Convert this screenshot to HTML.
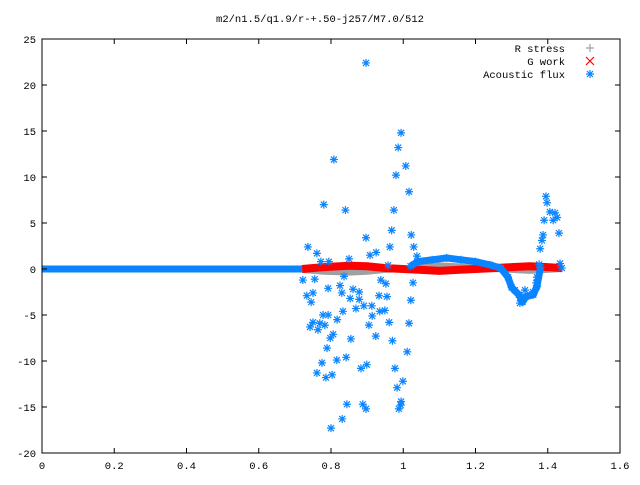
<!DOCTYPE html>
<html><head><meta charset="utf-8"><style>
body{margin:0;background:#fff}
svg text{font-family:"Liberation Mono",monospace;font-size:10.5px;fill:#000}
</style></head><body>
<svg id="chart" width="640" height="480" xmlns="http://www.w3.org/2000/svg">
<rect width="640" height="480" fill="#fff"/>
<text x="320" y="22" text-anchor="middle">m2/n1.5/q1.9/r-+.50-j257/M7.0/512</text>
<g id="plot"></g>
<g id="axes"></g>
<g id="legend"></g>
</svg>
<script>
const xTicks=[0,0.2,0.4,0.6,0.8,1,1.2,1.4,1.6];
const xTickLabels=["0","0.2","0.4","0.6","0.8","1","1.2","1.4","1.6"];
const yTicks=[-20,-15,-10,-5,0,5,10,15,20,25];
const yTickLabels=["-20","-15","-10","-5","0","5","10","15","20","25"];
// Continuous bands (x, y)
const stressX=[0.72,0.78,0.85,0.9,0.95,1.0,1.05,1.1,1.15,1.2,1.25,1.3,1.35,1.4,1.44];
const stressY=[-0.1,-0.3,-0.4,-0.3,-0.1,0.0,0.2,0.4,0.3,0.1,0.0,-0.1,-0.2,-0.1,0.0];
const workX=[0.72,0.78,0.85,0.9,0.95,1.0,1.05,1.1,1.15,1.2,1.25,1.3,1.35,1.4,1.44];
const workY=[0.0,0.2,0.35,0.3,0.1,0.0,-0.1,-0.2,-0.1,0.0,0.1,0.2,0.3,0.2,0.1];
const fluxBandX=[0,0.2,0.4,0.6,0.72];
const fluxBandY=[0,0,0,0,0];
const fluxCurveX=[1.02,1.04,1.08,1.12,1.16,1.2,1.24,1.27,1.29,1.30,1.32,1.33,1.34,1.36,1.37,1.38];
const fluxCurveY=[0.3,0.8,1.0,1.2,1.0,0.8,0.45,0.1,-0.9,-2.0,-2.8,-3.6,-3.0,-2.8,-1.9,0.2];
// Scattered acoustic flux points
const fluxX=[0.897,0.808,0.994,0.986,1.007,0.98,1.016,0.78,0.84,0.974,0.897,0.968,1.022,0.736,0.761,0.925,0.963,1.029,0.85,0.908,0.772,0.794,1.038,0.958,
0.722,0.836,0.755,0.938,0.952,0.792,0.825,1.027,0.861,0.878,0.83,0.75,0.733,0.853,0.933,0.955,0.745,0.878,0.891,1.021,0.869,0.913,0.935,0.949,0.833,0.778,0.792,0.914,0.905,0.961,1.016,0.75,0.742,0.769,0.783,0.764,0.817,0.806,0.798,0.855,0.924,0.97,0.789,1.011,0.842,0.775,0.816,0.899,0.883,0.977,0.761,0.786,0.803,0.999,0.983,0.994,0.988,0.844,0.888,0.897,0.831,0.8,0.993,
1.395,1.398,1.406,1.42,1.426,1.415,1.39,1.431,1.387,1.384,1.379,1.376,1.434,1.439,1.37,1.368,1.359,1.351,1.337,1.323,1.309];
const fluxY=[22.4,11.9,14.8,13.2,11.2,10.2,8.4,7.0,6.4,6.4,3.4,4.2,3.7,2.4,1.7,1.8,2.4,2.4,1.1,1.5,0.8,0.8,1.4,0.4,
-1.2,-0.8,-1.1,-1.2,-1.6,-2.1,-1.8,-1.5,-2.2,-2.5,-2.6,-2.6,-2.9,-3.2,-2.9,-3.0,-3.6,-3.3,-4.0,-3.4,-4.3,-4.0,-4.6,-4.5,-4.6,-5.0,-5.0,-5.1,-6.1,-5.8,-5.9,-5.8,-6.3,-5.9,-6.1,-6.6,-5.5,-7.1,-7.5,-7.6,-7.3,-7.8,-8.6,-9.0,-9.6,-10.2,-9.9,-10.4,-10.8,-10.8,-11.3,-11.8,-11.5,-12.2,-12.9,-14.4,-15.2,-14.7,-14.7,-15.2,-16.3,-17.3,-14.8,
7.9,7.2,6.2,6.1,5.6,5.3,5.3,3.9,3.7,3.1,2.2,0.5,0.6,0.1,-0.9,-1.5,-2.5,-2.8,-2.3,-3.7,-2.3];
const X0=42,X1=620,Y0=453,Y1=39;
const sx=v=>X0+(v-0)/(1.6-0)*(X1-X0);
const sy=v=>Y0-(v+20)/(25+20)*(Y0-Y1);
const NS="http://www.w3.org/2000/svg";
const plot=document.getElementById('plot'),axes=document.getElementById('axes'),legend=document.getElementById('legend');
function mk(tag,attrs,parent){const e=document.createElementNS(NS,tag);for(const k in attrs)e.setAttribute(k,attrs[k]);parent.appendChild(e);return e;}
function star(x,y,c,parent){
  const g=mk('g',{stroke:c,'stroke-width':1.2},parent);
  
  
  mk('path',{d:`M${x-4},${y}h8M${x},${y-4}v8M${x-3},${y-3}l6,6M${x-3},${y+3}l6,-6`},g);
  return g;
}
function band(xs,ys,c,w,name){
  const p=mk('polyline',{points:xs.map((x,i)=>sx(x)+','+sy(ys[i])).join(' '),fill:'none',stroke:c,'stroke-width':w,'stroke-linejoin':'round'},plot);
  
  
}
band(stressX,stressY,'#a0a0a0',6,'r-stress-series');
band(workX,workY,'#ff0000',8,'g-work-series');
band(fluxBandX,fluxBandY,'#0a84ff',7,'acoustic-flux-band');
band(fluxCurveX,fluxCurveY,'#0a84ff',7,'acoustic-flux-curve');
fluxCurveX.forEach((x,i)=>star(sx(x),sy(fluxCurveY[i]),'#0a84ff',plot));
fluxX.forEach((x,i)=>star(sx(x),sy(fluxY[i]),'#0a84ff',plot));
// axes
const fr=mk('rect',{x:X0,y:Y1,width:X1-X0,height:Y0-Y1,fill:'none',stroke:'#000','stroke-width':1},axes);


xTicks.forEach((v,i)=>{const x=sx(v);
  mk('path',{d:`M${x},${Y0}v-5M${x},${Y1}v5`,stroke:'#000'},axes);
  const t=mk('text',{x:x,y:Y0+16,'text-anchor':'middle'},axes);t.textContent=xTickLabels[i];
  
  
});
yTicks.forEach((v,i)=>{const y=sy(v);
  mk('path',{d:`M${X0},${y}h5M${X1},${y}h-5`,stroke:'#000'},axes);
  const t=mk('text',{x:X0-6,y:y+4,'text-anchor':'end'},axes);t.textContent=yTickLabels[i];
  
  
});
// legend
const legNames=["R stress","G work","Acoustic flux"];
const legY=[48,61,74];
legNames.forEach((n,i)=>{
  const t=mk('text',{x:565,y:legY[i]+4,'text-anchor':'end'},legend);t.textContent=n;
  
  
});
mk('path',{d:`M586,48h8M590,44v8`,stroke:'#a0a0a0','stroke-width':1.2},legend);
mk('path',{d:`M586,57l8,8M586,65l8,-8`,stroke:'#ff0000','stroke-width':1.2},legend);
star(590,74,'#0a84ff',legend);
</script>
</body></html>
